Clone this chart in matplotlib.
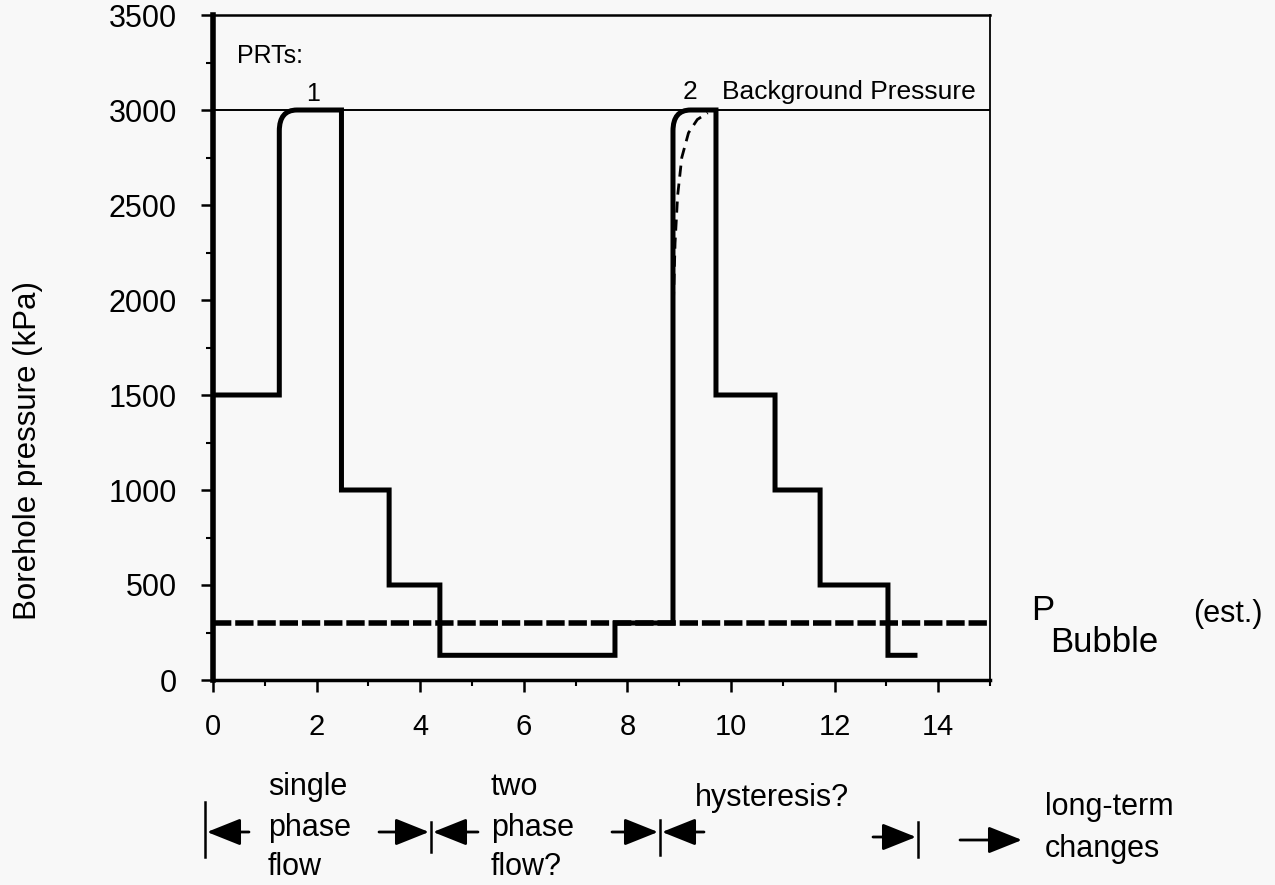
import matplotlib
matplotlib.use('Agg')
import matplotlib.pyplot as plt
from matplotlib.path import Path
from matplotlib.patches import PathPatch, FancyArrowPatch
from matplotlib.lines import Line2D

plt.rcParams['font.family'] = ['Liberation Sans', 'DejaVu Sans']

# Stufen der Bohrlochdruck-Kurve: Kanten (x) und Niveaus (kPa)
step_edges = [0, 1.28, 2.48, 3.40, 4.38, 7.76, 8.88, 9.71, 10.85, 11.72, 13.03, 13.60]
step_levels = [1500, 3000, 1000, 500, 130, 300, 3000, 1500, 1000, 500, 130]

# gestrichelte Erholungskurve bei PRT 2
recovery_x = [8.88, 8.89, 8.92, 8.97, 9.05, 9.18, 9.35, 9.55]
recovery_y = [1700, 2000, 2300, 2550, 2750, 2880, 2950, 2985]

background_pressure = 3000
bubble_pressure = 300

x_ticks = [0, 2, 4, 6, 8, 10, 12, 14]
y_ticks = [0, 500, 1000, 1500, 2000, 2500, 3000, 3500]

W, H = 1275, 885
bg = '#f8f8f8'
fig = plt.figure(figsize=(W / 100, H / 100), dpi=100)
fig.patch.set_facecolor(bg)
ax = fig.add_axes([213 / W, 1 - 680 / H, (990 - 213) / W, (680 - 15) / H])
ax.set_facecolor(bg)


def px(x, y):
    return (x / W, 1 - y / H)


# Pfad mit abgerundeter Ecke dort, wo die Kurve auf 3000 steigt
verts = [(step_edges[0], step_levels[0])]
codes = [Path.MOVETO]
rx, ry = 0.34, 110
for i in range(1, len(step_levels)):
    x = step_edges[i]
    y0, y1 = step_levels[i - 1], step_levels[i]
    if y1 == background_pressure and y1 > y0:
        verts += [(x, y0), (x, y1 - ry), (x, y1), (x + rx, y1)]
        codes += [Path.LINETO, Path.LINETO, Path.CURVE3, Path.CURVE3]
    else:
        verts += [(x, y0), (x, y1)]
        codes += [Path.LINETO, Path.LINETO]
verts.append((step_edges[-1], step_levels[-1]))
codes.append(Path.LINETO)
ax.add_patch(PathPatch(Path(verts, codes), facecolor='none', edgecolor='black',
                       lw=3.6, joinstyle='miter', capstyle='butt', zorder=4))

ax.plot(recovery_x, recovery_y, color='black', lw=2.0, ls=(0, (4, 2.5)), zorder=3)
ax.axhline(background_pressure, color='black', lw=1.4, zorder=2)
ax.axhline(bubble_pressure, color='black', lw=4.0, ls=(0, (3.3, 0.7)), zorder=3)

ax.set_xlim(0, 15)
ax.set_ylim(0, 3500)
ax.set_xticks(x_ticks)
ax.set_xticks(range(1, 16, 2), minor=True)
ax.set_yticks(y_ticks)
ax.set_yticks(range(250, 3500, 500), minor=True)
ax.tick_params(axis='both', which='major', width=1.8, direction='out')
ax.tick_params(axis='both', which='minor', width=1.5, direction='out')
ax.tick_params(axis='y', which='major', labelsize=22, length=9, pad=17)
ax.tick_params(axis='y', which='minor', length=5)
ax.tick_params(axis='x', which='major', labelsize=21, length=8.5, pad=15)
ax.tick_params(axis='x', which='minor', length=4.5)
for side, lw in [('left', 4.0), ('bottom', 2.5), ('top', 1.8), ('right', 1.3)]:
    ax.spines[side].set_linewidth(lw)

fig.text(*px(28, 451), 'Borehole pressure (kPa)', fontsize=22.5, rotation=90,
         ha='center', va='center')

ax.text(0.46, 3247, 'PRTs:', fontsize=18, va='baseline')
ax.text(1.93, 3047, '1', fontsize=18, ha='center', va='baseline')
ax.text(9.21, 3058, '2', fontsize=19, ha='center', va='baseline')
ax.text(9.83, 3058, 'Background Pressure', fontsize=19, va='baseline')

fig.text(*px(1031, 620), 'P', fontsize=25, ha='left', va='baseline')
fig.text(*px(1050, 652), 'Bubble', fontsize=25, ha='left', va='baseline')
fig.text(*px(1193, 622), '(est.)', fontsize=22, ha='left', va='baseline')

# Bereiche unter der Achse
fs = 22
for txt, x, y in [('single', 268, 795), ('phase', 268, 836), ('flow', 268, 875),
                  ('two', 491, 795), ('phase', 491, 836), ('flow?', 491, 875),
                  ('hysteresis?', 695, 806), ('long-term', 1045, 815), ('changes', 1045, 857)]:
    fig.text(*px(x, y), txt, fontsize=fs, va='baseline')

for bx, y0, y1 in [(205, 802, 857), (431, 822, 852), (660, 820, 855), (918, 822, 857)]:
    fig.add_artist(Line2D([bx / W, bx / W], [1 - y0 / H, 1 - y1 / H],
                          color='black', lw=1.8, transform=fig.transFigure))

arrow = dict(arrowstyle='-|>,head_length=0.8,head_width=0.32', color='black', lw=2.0,
             shrinkA=0, shrinkB=0, mutation_scale=26)
for x0, x1, y in [(249, 207, 832), (379, 429, 832), (478, 433, 832), (612, 658, 832),
                  (704, 662, 832), (873, 916, 837), (960, 1022, 840)]:
    fig.add_artist(FancyArrowPatch(px(x0, y), px(x1, y), transform=fig.transFigure, **arrow))

fig.savefig('out.png', dpi=100, facecolor=fig.get_facecolor())
